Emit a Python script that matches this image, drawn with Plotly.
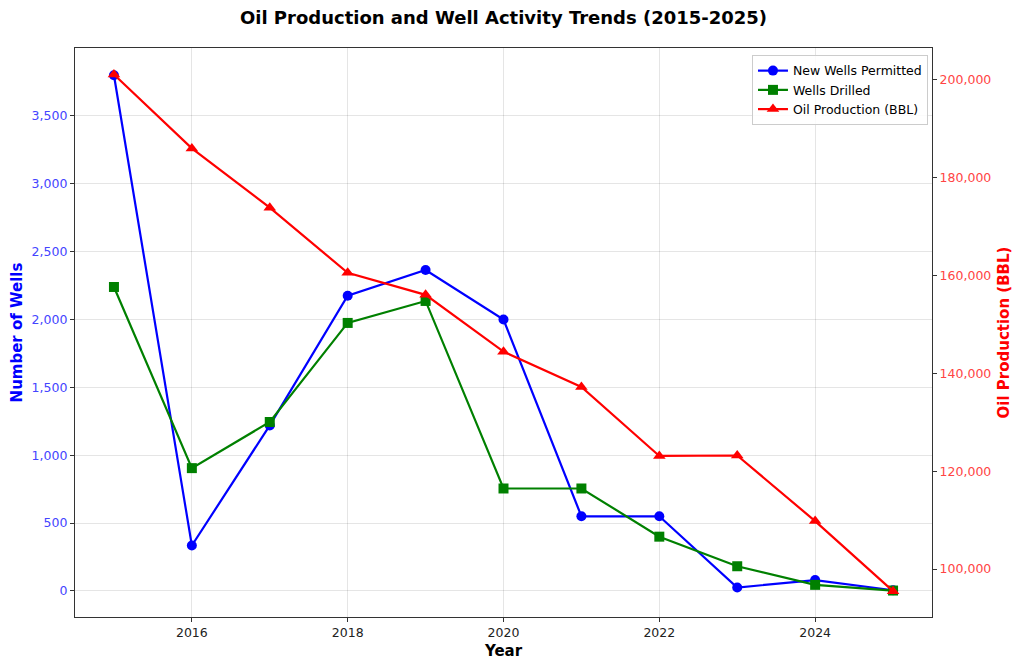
import plotly.graph_objects as go

years = [2015, 2016, 2017, 2018, 2019, 2020, 2021, 2022, 2023, 2024, 2025]
wells_permitted = [3800, 335, 1220, 2175, 2365, 2000, 550, 550, 25, 80, 5]
wells_drilled = [2240, 905, 1245, 1975, 2137, 755, 755, 400, 182, 45, 3]
oil_production = [201000, 185900, 173800, 160500, 156000, 144400, 137200, 123100, 123200, 109800, 95500]

left_ticks = [0, 500, 1000, 1500, 2000, 2500, 3000, 3500]
right_ticks = [100000, 120000, 140000, 160000, 180000, 200000]
x_ticks = [2016, 2018, 2020, 2022, 2024]

font = "DejaVu Sans"

fig = go.Figure()
fig.add_trace(go.Scatter(
    x=years, y=wells_permitted, name="New Wells Permitted", mode="lines+markers",
    line=dict(color="blue", width=2.2), marker=dict(symbol="circle", size=10, color="blue"),
))
fig.add_trace(go.Scatter(
    x=years, y=wells_drilled, name="Wells Drilled", mode="lines+markers",
    line=dict(color="green", width=2.2), marker=dict(symbol="square", size=10, color="green"),
))
fig.add_trace(go.Scatter(
    x=years, y=oil_production, name="Oil Production (BBL)", mode="lines+markers", yaxis="y2",
    line=dict(color="red", width=2.2), marker=dict(symbol="triangle-up", size=11, color="red"),
))

fig.update_layout(
    width=1016, height=662,
    margin=dict(l=67, r=92, t=40, b=53),
    plot_bgcolor="white", paper_bgcolor="white",
    font=dict(family=font, size=12, color="black"),
    title=dict(text="<b>Oil Production and Well Activity Trends (2015-2025)</b>",
               x=0.4877, xanchor="center", y=0.985, yanchor="middle",
               font=dict(size=18, family=font, color="black")),
    xaxis=dict(
        range=[2014.5, 2025.5], tickvals=x_ticks, ticktext=[str(t) for t in x_ticks],
        showgrid=True, gridcolor="rgba(0,0,0,0.1)", gridwidth=1,
        showline=True, linecolor="#333333", linewidth=1.2, mirror=True,
        ticks="outside", ticklen=4, tickcolor="#333333", zeroline=False,
        automargin=False,
        title=dict(text="<b>Year</b>", font=dict(size=15, family=font), standoff=6),
        tickfont=dict(size=12.5, color="#222222"),
    ),
    yaxis=dict(
        range=[-192, 4001], tickvals=left_ticks, tickformat=",",
        showgrid=True, gridcolor="rgba(0,0,0,0.1)", gridwidth=1,
        showline=True, linecolor="#333333", linewidth=1.2,
        ticks="outside", ticklen=4, tickcolor="#333333", zeroline=False,
        automargin=False,
        title=dict(text="<b>Number of Wells</b>", font=dict(size=15, family=font, color="blue"), standoff=6),
        tickfont=dict(size=12.5, color="#4444ff"),
    ),
    yaxis2=dict(
        overlaying="y", side="right",
        range=[90220, 206400], tickvals=right_ticks, tickformat=",",
        showgrid=False, showline=True, linecolor="#333333", linewidth=1.2,
        ticks="outside", ticklen=4, tickcolor="#333333", zeroline=False,
        automargin=False,
        title=dict(text="<b>Oil Production (BBL)</b>", font=dict(size=15, family=font, color="red"), standoff=8),
        tickfont=dict(size=12.5, color="#ff4444"),
    ),
    legend=dict(
        x=0.9953, y=0.9877, xanchor="right", yanchor="top",
        bgcolor="rgba(255,255,255,0.85)", bordercolor="#cccccc", borderwidth=1,
        font=dict(size=12.5, family=font), tracegroupgap=0,
    ),
    showlegend=True,
)

fig.write_html("out.html")
